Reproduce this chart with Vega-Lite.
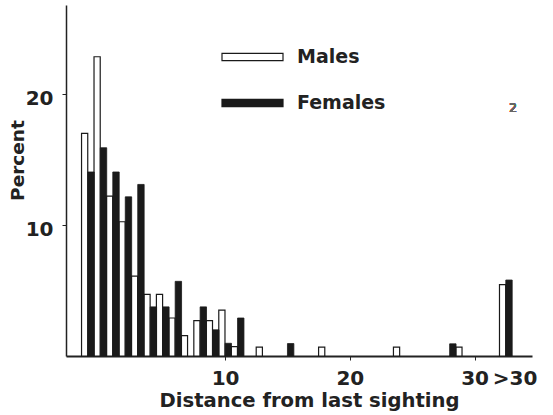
{
  "$schema": "https://vega.github.io/schema/vega-lite/v6.json",
  "autosize": {"type": "none"},
  "padding": {"left": 66, "top": 5, "right": 21, "bottom": 59},
  "width": 466,
  "height": 351,
  "background": "white",
  "config": {
    "view": {"stroke": null},
    "font": "DejaVu Sans",
    "axis": {"grid": false, "domainColor": "#222", "tickColor": "#222", "labelColor": "#222", "titleColor": "#222", "labelFont": "DejaVu Sans", "titleFont": "DejaVu Sans", "labelFontWeight": "bold", "titleFontWeight": "bold"}
  },
  "data": {
    "values": [
      {"distance": -1, "sex": "Males", "percent": 17.0},
      {"distance": 0, "sex": "Males", "percent": 22.85},
      {"distance": 1, "sex": "Males", "percent": 12.2},
      {"distance": 2, "sex": "Males", "percent": 10.25},
      {"distance": 3, "sex": "Males", "percent": 6.1},
      {"distance": 4, "sex": "Males", "percent": 4.7},
      {"distance": 5, "sex": "Males", "percent": 4.7},
      {"distance": 6, "sex": "Males", "percent": 2.9},
      {"distance": 7, "sex": "Males", "percent": 1.55},
      {"distance": 8, "sex": "Males", "percent": 2.7},
      {"distance": 9, "sex": "Males", "percent": 2.7},
      {"distance": 10, "sex": "Males", "percent": 3.5},
      {"distance": 11, "sex": "Males", "percent": 0.72},
      {"distance": 13, "sex": "Males", "percent": 0.68},
      {"distance": 18, "sex": "Males", "percent": 0.68},
      {"distance": 24, "sex": "Males", "percent": 0.68},
      {"distance": 29, "sex": "Males", "percent": 0.68},
      {"distance": 32.5, "sex": "Males", "percent": 5.45},
      {"distance": -1, "sex": "Females", "percent": 14.05},
      {"distance": 0, "sex": "Females", "percent": 15.9},
      {"distance": 1, "sex": "Females", "percent": 14.05},
      {"distance": 2, "sex": "Females", "percent": 12.15},
      {"distance": 3, "sex": "Females", "percent": 13.1},
      {"distance": 4, "sex": "Females", "percent": 3.75},
      {"distance": 5, "sex": "Females", "percent": 3.75},
      {"distance": 6, "sex": "Females", "percent": 5.7},
      {"distance": 8, "sex": "Females", "percent": 3.75},
      {"distance": 9, "sex": "Females", "percent": 2.0},
      {"distance": 10, "sex": "Females", "percent": 0.97},
      {"distance": 11, "sex": "Females", "percent": 2.9},
      {"distance": 15, "sex": "Females", "percent": 0.95},
      {"distance": 28, "sex": "Females", "percent": 0.93},
      {"distance": 32.5, "sex": "Females", "percent": 5.8}
    ]
  },
  "encoding": {
    "x": {
      "field": "distance", "type": "quantitative",
      "scale": {"domain": [-2.35, 34.2], "nice": false, "zero": false},
      "axis": {
        "title": "Distance from last sighting",
        "values": [10, 20, 30, 33.2],
        "labelExpr": "datum.value > 31 ? '>30' : datum.label",
        "labelOverlap": false,
        "labelFontSize": 20,
        "labelBaseline": "alphabetic",
        "labelPadding": 24,
        "tickSize": 4,
        "tickOpacity": {"condition": {"test": "datum.value > 31", "value": 0}, "value": 1},
        "domainWidth": 2,
        "titleFontSize": 19.6,
        "titleBaseline": "alphabetic",
        "titleY": 50,
        "titleX": 243,
        "titleAnchor": "middle"
      }
    },
    "y": {
      "field": "percent", "type": "quantitative",
      "scale": {"domain": [0, 26.8], "nice": false},
      "axis": {
        "title": "Percent",
        "values": [10, 20],
        "labelFontSize": 20,
        "labelPadding": 9,
        "labelOffset": 4,
        "tickSize": 4,
        "domainWidth": 1.5,
        "titleFontSize": 18.5,
        "titleX": -49,
        "titleY": 155,
        "titleAngle": 270,
        "titleBaseline": "middle"
      }
    },
    "fill": {
      "field": "sex", "type": "nominal",
      "scale": {"domain": ["Males", "Females"], "range": ["white", "#1a1a1a"]},
      "legend": {
        "title": null,
        "orient": "none",
        "legendX": 155,
        "legendY": 42,
        "padding": 0,
        "symbolType": "M-1,-0.12H1V0.12H-1Z",
        "symbolSize": 3721,
        "symbolStrokeColor": "#1a1a1a",
        "symbolStrokeWidth": 1.2,
        "labelFont": "DejaVu Sans",
        "labelFontSize": 19,
        "labelFontWeight": "bold",
        "labelColor": "#222",
        "labelOffset": 13,
        "clipHeight": 20,
        "rowPadding": 26
      }
    }
  },
  "layer": [
    {
      "transform": [{"filter": "datum.sex === 'Males'"}],
      "mark": {"type": "bar", "width": 6.2, "xOffset": -3.2, "stroke": "#1a1a1a", "strokeWidth": 1.2}
    },
    {
      "transform": [{"filter": "datum.sex === 'Females'"}],
      "mark": {"type": "bar", "width": 6.4, "xOffset": 3.2, "stroke": "#1a1a1a", "strokeWidth": 0.8}
    },
    {
      "mark": {"type": "text", "fontSize": 12, "fill": "#666", "font": "DejaVu Sans"},
      "encoding": {
        "x": {"datum": 33.09, "type": "quantitative"},
        "y": {"datum": 18.93, "type": "quantitative"},
        "text": {"value": "2"},
        "fill": {"value": "#666"}
      }
    }
  ]
}
